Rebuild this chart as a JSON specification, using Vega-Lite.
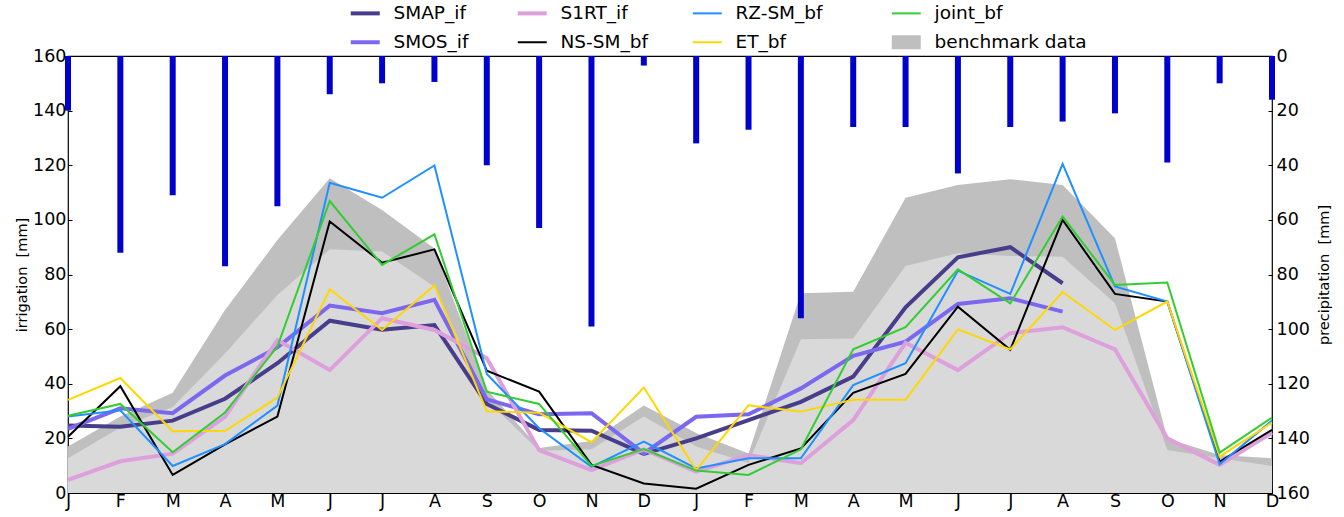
{
  "$schema": "https://vega.github.io/schema/vega-lite/v6.json",
  "width": 1204,
  "height": 437,
  "autosize": {"type": "none"},
  "padding": {"left": 68, "top": 56, "right": 72, "bottom": 24},
  "config": {
    "font": "DejaVu Sans",
    "view": {"stroke": "#000", "strokeWidth": 1.2},
    "axis": {"grid": false, "domain": false, "labelColor": "#000", "titleColor": "#000", "tickColor": "#000", "labelFontSize": 17.5, "titleFontSize": 14.5, "titleFontWeight": "normal", "tickSize": -4, "tickWidth": 1}
  },
  "datasets": {
    "bench": [
      {"m": 0, "upper": 17.0, "lower": 12.7}, {"m": 1, "upper": 28.0, "lower": 24.0}, {"m": 2, "upper": 36.7, "lower": 31.5},
      {"m": 3, "upper": 67.0, "lower": 51.1}, {"m": 4, "upper": 92.6, "lower": 72.5}, {"m": 5, "upper": 115.2, "lower": 89.2},
      {"m": 6, "upper": 103.6, "lower": 88.4}, {"m": 7, "upper": 89.5, "lower": 75.5}, {"m": 8, "upper": 38.0, "lower": 34.0},
      {"m": 9, "upper": 16.5, "lower": 15.5}, {"m": 10, "upper": 19.0, "lower": 16.0}, {"m": 11, "upper": 32.0, "lower": 28.0},
      {"m": 12, "upper": 22.0, "lower": 17.0}, {"m": 13, "upper": 14.5, "lower": 11.0}, {"m": 14, "upper": 73.1, "lower": 56.3},
      {"m": 15, "upper": 73.7, "lower": 56.6}, {"m": 16, "upper": 108.1, "lower": 83.1}, {"m": 17, "upper": 112.8, "lower": 87.8},
      {"m": 18, "upper": 114.9, "lower": 86.8}, {"m": 19, "upper": 112.8, "lower": 86.5}, {"m": 20, "upper": 93.3, "lower": 69.5},
      {"m": 21, "upper": 20.0, "lower": 15.7}, {"m": 22, "upper": 13.9, "lower": 12.7}, {"m": 23, "upper": 12.7, "lower": 9.9}
    ],
    "precip": [
      {"m": 0, "p": 20}, {"m": 1, "p": 72}, {"m": 2, "p": 51}, {"m": 3, "p": 77}, {"m": 4, "p": 55}, {"m": 5, "p": 14},
      {"m": 6, "p": 10}, {"m": 7, "p": 9.5}, {"m": 8, "p": 40}, {"m": 9, "p": 63}, {"m": 10, "p": 99}, {"m": 11, "p": 3.5},
      {"m": 12, "p": 32}, {"m": 13, "p": 27}, {"m": 14, "p": 96}, {"m": 15, "p": 26}, {"m": 16, "p": 26}, {"m": 17, "p": 43},
      {"m": 18, "p": 26}, {"m": 19, "p": 24}, {"m": 20, "p": 21}, {"m": 21, "p": 39}, {"m": 22, "p": 10}, {"m": 23, "p": 16}
    ],
    "lines": [
      {"series": "SMAP_if", "m": 0, "v": 24.7}, {"series": "SMAP_if", "m": 1, "v": 24.3}, {"series": "SMAP_if", "m": 2, "v": 26.5},
      {"series": "SMAP_if", "m": 3, "v": 34.5}, {"series": "SMAP_if", "m": 4, "v": 47.5}, {"series": "SMAP_if", "m": 5, "v": 63.1},
      {"series": "SMAP_if", "m": 6, "v": 59.8}, {"series": "SMAP_if", "m": 7, "v": 61.5}, {"series": "SMAP_if", "m": 8, "v": 32.6},
      {"series": "SMAP_if", "m": 9, "v": 23.1}, {"series": "SMAP_if", "m": 10, "v": 22.8}, {"series": "SMAP_if", "m": 11, "v": 14.3},
      {"series": "SMAP_if", "m": 12, "v": 20.0}, {"series": "SMAP_if", "m": 13, "v": 26.7}, {"series": "SMAP_if", "m": 14, "v": 33.4},
      {"series": "SMAP_if", "m": 15, "v": 42.6}, {"series": "SMAP_if", "m": 16, "v": 68.0}, {"series": "SMAP_if", "m": 17, "v": 86.3},
      {"series": "SMAP_if", "m": 18, "v": 90.0}, {"series": "SMAP_if", "m": 19, "v": 76.8},

      {"series": "SMOS_if", "m": 0, "v": 23.5}, {"series": "SMOS_if", "m": 1, "v": 31.0}, {"series": "SMOS_if", "m": 2, "v": 29.2},
      {"series": "SMOS_if", "m": 3, "v": 43.0}, {"series": "SMOS_if", "m": 4, "v": 53.3}, {"series": "SMOS_if", "m": 5, "v": 68.6},
      {"series": "SMOS_if", "m": 6, "v": 65.8}, {"series": "SMOS_if", "m": 7, "v": 70.7}, {"series": "SMOS_if", "m": 8, "v": 34.3},
      {"series": "SMOS_if", "m": 9, "v": 28.8}, {"series": "SMOS_if", "m": 10, "v": 29.2}, {"series": "SMOS_if", "m": 11, "v": 14.5},
      {"series": "SMOS_if", "m": 12, "v": 27.9}, {"series": "SMOS_if", "m": 13, "v": 28.8}, {"series": "SMOS_if", "m": 14, "v": 38.3},
      {"series": "SMOS_if", "m": 15, "v": 50.2}, {"series": "SMOS_if", "m": 16, "v": 55.4}, {"series": "SMOS_if", "m": 17, "v": 69.2},
      {"series": "SMOS_if", "m": 18, "v": 71.3}, {"series": "SMOS_if", "m": 19, "v": 66.4},

      {"series": "S1RT_if", "m": 0, "v": 4.8}, {"series": "S1RT_if", "m": 1, "v": 11.6}, {"series": "S1RT_if", "m": 2, "v": 14.4},
      {"series": "S1RT_if", "m": 3, "v": 27.9}, {"series": "S1RT_if", "m": 4, "v": 56.0}, {"series": "S1RT_if", "m": 5, "v": 45.0},
      {"series": "S1RT_if", "m": 6, "v": 64.0}, {"series": "S1RT_if", "m": 7, "v": 59.7}, {"series": "S1RT_if", "m": 8, "v": 49.3},
      {"series": "S1RT_if", "m": 9, "v": 15.7}, {"series": "S1RT_if", "m": 10, "v": 8.4}, {"series": "S1RT_if", "m": 11, "v": 16.0},
      {"series": "S1RT_if", "m": 12, "v": 7.8}, {"series": "S1RT_if", "m": 13, "v": 13.9}, {"series": "S1RT_if", "m": 14, "v": 10.9},
      {"series": "S1RT_if", "m": 15, "v": 26.7}, {"series": "S1RT_if", "m": 16, "v": 55.0}, {"series": "S1RT_if", "m": 17, "v": 45.0},
      {"series": "S1RT_if", "m": 18, "v": 58.5}, {"series": "S1RT_if", "m": 19, "v": 60.7}, {"series": "S1RT_if", "m": 20, "v": 52.6},
      {"series": "S1RT_if", "m": 21, "v": 20.0}, {"series": "S1RT_if", "m": 22, "v": 10.3}, {"series": "S1RT_if", "m": 23, "v": 22.1},

      {"series": "NS-SM_bf", "m": 0, "v": 20.6}, {"series": "NS-SM_bf", "m": 1, "v": 39.1}, {"series": "NS-SM_bf", "m": 2, "v": 6.6},
      {"series": "NS-SM_bf", "m": 3, "v": 17.8}, {"series": "NS-SM_bf", "m": 4, "v": 28.0}, {"series": "NS-SM_bf", "m": 5, "v": 99.4},
      {"series": "NS-SM_bf", "m": 6, "v": 84.3}, {"series": "NS-SM_bf", "m": 7, "v": 89.2}, {"series": "NS-SM_bf", "m": 8, "v": 44.8},
      {"series": "NS-SM_bf", "m": 9, "v": 37.1}, {"series": "NS-SM_bf", "m": 10, "v": 10.3}, {"series": "NS-SM_bf", "m": 11, "v": 3.5},
      {"series": "NS-SM_bf", "m": 12, "v": 1.6}, {"series": "NS-SM_bf", "m": 13, "v": 10.3}, {"series": "NS-SM_bf", "m": 14, "v": 16.3},
      {"series": "NS-SM_bf", "m": 15, "v": 36.7}, {"series": "NS-SM_bf", "m": 16, "v": 43.6}, {"series": "NS-SM_bf", "m": 17, "v": 68.2},
      {"series": "NS-SM_bf", "m": 18, "v": 52.4}, {"series": "NS-SM_bf", "m": 19, "v": 100.0}, {"series": "NS-SM_bf", "m": 20, "v": 72.9},
      {"series": "NS-SM_bf", "m": 21, "v": 70.1}, {"series": "NS-SM_bf", "m": 22, "v": 11.5}, {"series": "NS-SM_bf", "m": 23, "v": 23.1},

      {"series": "RZ-SM_bf", "m": 0, "v": 28.0}, {"series": "RZ-SM_bf", "m": 1, "v": 30.3}, {"series": "RZ-SM_bf", "m": 2, "v": 9.9},
      {"series": "RZ-SM_bf", "m": 3, "v": 17.9}, {"series": "RZ-SM_bf", "m": 4, "v": 32.0}, {"series": "RZ-SM_bf", "m": 5, "v": 113.6},
      {"series": "RZ-SM_bf", "m": 6, "v": 108.1}, {"series": "RZ-SM_bf", "m": 7, "v": 119.9}, {"series": "RZ-SM_bf", "m": 8, "v": 43.6},
      {"series": "RZ-SM_bf", "m": 9, "v": 23.7}, {"series": "RZ-SM_bf", "m": 10, "v": 9.6}, {"series": "RZ-SM_bf", "m": 11, "v": 18.8},
      {"series": "RZ-SM_bf", "m": 12, "v": 9.0}, {"series": "RZ-SM_bf", "m": 13, "v": 12.7}, {"series": "RZ-SM_bf", "m": 14, "v": 12.7},
      {"series": "RZ-SM_bf", "m": 15, "v": 39.5}, {"series": "RZ-SM_bf", "m": 16, "v": 47.5}, {"series": "RZ-SM_bf", "m": 17, "v": 81.4},
      {"series": "RZ-SM_bf", "m": 18, "v": 72.9}, {"series": "RZ-SM_bf", "m": 19, "v": 120.5}, {"series": "RZ-SM_bf", "m": 20, "v": 75.6},
      {"series": "RZ-SM_bf", "m": 21, "v": 70.1}, {"series": "RZ-SM_bf", "m": 22, "v": 10.5}, {"series": "RZ-SM_bf", "m": 23, "v": 26.5},

      {"series": "ET_bf", "m": 0, "v": 34.1}, {"series": "ET_bf", "m": 1, "v": 42.1}, {"series": "ET_bf", "m": 2, "v": 22.6},
      {"series": "ET_bf", "m": 3, "v": 22.8}, {"series": "ET_bf", "m": 4, "v": 34.9}, {"series": "ET_bf", "m": 5, "v": 74.6},
      {"series": "ET_bf", "m": 6, "v": 59.7}, {"series": "ET_bf", "m": 7, "v": 76.0}, {"series": "ET_bf", "m": 8, "v": 29.9},
      {"series": "ET_bf", "m": 9, "v": 29.4}, {"series": "ET_bf", "m": 10, "v": 18.6}, {"series": "ET_bf", "m": 11, "v": 38.6},
      {"series": "ET_bf", "m": 12, "v": 8.4}, {"series": "ET_bf", "m": 13, "v": 32.1}, {"series": "ET_bf", "m": 14, "v": 29.8},
      {"series": "ET_bf", "m": 15, "v": 34.1}, {"series": "ET_bf", "m": 16, "v": 34.1}, {"series": "ET_bf", "m": 17, "v": 59.9},
      {"series": "ET_bf", "m": 18, "v": 52.6}, {"series": "ET_bf", "m": 19, "v": 73.6}, {"series": "ET_bf", "m": 20, "v": 59.7},
      {"series": "ET_bf", "m": 21, "v": 70.1}, {"series": "ET_bf", "m": 22, "v": 13.3}, {"series": "ET_bf", "m": 23, "v": 25.8},

      {"series": "joint_bf", "m": 0, "v": 28.3}, {"series": "joint_bf", "m": 1, "v": 32.6}, {"series": "joint_bf", "m": 2, "v": 14.9},
      {"series": "joint_bf", "m": 3, "v": 29.5}, {"series": "joint_bf", "m": 4, "v": 53.6}, {"series": "joint_bf", "m": 5, "v": 106.9},
      {"series": "joint_bf", "m": 6, "v": 83.5}, {"series": "joint_bf", "m": 7, "v": 94.7}, {"series": "joint_bf", "m": 8, "v": 37.1},
      {"series": "joint_bf", "m": 9, "v": 32.6}, {"series": "joint_bf", "m": 10, "v": 9.9}, {"series": "joint_bf", "m": 11, "v": 16.1},
      {"series": "joint_bf", "m": 12, "v": 8.2}, {"series": "joint_bf", "m": 13, "v": 6.6}, {"series": "joint_bf", "m": 14, "v": 16.0},
      {"series": "joint_bf", "m": 15, "v": 52.6}, {"series": "joint_bf", "m": 16, "v": 60.7}, {"series": "joint_bf", "m": 17, "v": 81.9},
      {"series": "joint_bf", "m": 18, "v": 69.4}, {"series": "joint_bf", "m": 19, "v": 101.2}, {"series": "joint_bf", "m": 20, "v": 76.2},
      {"series": "joint_bf", "m": 21, "v": 77.1}, {"series": "joint_bf", "m": 22, "v": 14.8}, {"series": "joint_bf", "m": 23, "v": 27.6}
    ]
  },
  "layer": [
    {
      "layer": [
        {
          "data": {"name": "bench"},
          "mark": {"type": "area", "opacity": 1},
          "encoding": {
            "x": {"field": "m", "type": "quantitative", "scale": {"domain": [0, 23], "nice": false, "zero": false},
              "axis": {"title": null, "values": [0,1,2,3,4,5,6,7,8,9,10,11,12,13,14,15,16,17,18,19,20,21,22,23],
                "labelExpr": "['J','F','M','A','M','J','J','A','S','O','N','D'][datum.value % 12]", "labelPadding": 3, "labelFlush": false}},
            "y": {"field": "upper", "type": "quantitative", "scale": {"domain": [0, 160], "nice": false},
              "axis": {"title": "irrigation\u00a0 [mm]", "values": [0,20,40,60,80,100,120,140,160], "labelPadding": 6, "titlePadding": 3}},
            "color": {"datum": "benchmark data", "type": "nominal"}
          }
        },
        {
          "data": {"name": "bench"},
          "mark": {"type": "area", "color": "#d9d9d9", "opacity": 1},
          "encoding": {
            "x": {"field": "m", "type": "quantitative"},
            "y": {"field": "lower", "type": "quantitative"}
          }
        },
        {
          "data": {"name": "lines"},
          "transform": [{"filter": {"field": "series", "oneOf": ["SMAP_if", "SMOS_if", "S1RT_if"]}}],
          "mark": {"type": "line", "strokeWidth": 4},
          "encoding": {
            "x": {"field": "m", "type": "quantitative"},
            "y": {"field": "v", "type": "quantitative"},
            "color": {"field": "series", "type": "nominal",
              "scale": {"domain": ["SMAP_if", "S1RT_if", "RZ-SM_bf", "joint_bf", "SMOS_if", "NS-SM_bf", "ET_bf", "benchmark data"],
                "range": ["#483d8b", "#dda0dd", "#1e90ff", "#32cd32", "#7b68ee", "#000000", "#ffd700", "#bfbfbf"]},
              "legend": {
                "title": null, "orient": "none", "legendX": 288, "legendY": -52, "direction": "horizontal", "columns": 4,
                "symbolType": "stroke", "symbolSize": 841, "labelFontSize": 18.5, "labelColor": "#000", "labelOffset": 19,
                "columnPadding": 40, "rowPadding": -9, "padding": 0, "labelLimit": 300,
                "encode": {"symbols": {"update": {
                  "strokeWidth": {"signal": "datum.value === 'benchmark data' ? 14 : (datum.value === 'SMAP_if' || datum.value === 'SMOS_if' || datum.value === 'S1RT_if') ? 4 : 2"}
                }}}
              }}
          }
        },
        {
          "data": {"name": "lines"},
          "transform": [{"filter": {"field": "series", "oneOf": ["NS-SM_bf", "RZ-SM_bf", "ET_bf", "joint_bf"]}}],
          "mark": {"type": "line", "strokeWidth": 2},
          "encoding": {
            "x": {"field": "m", "type": "quantitative"},
            "y": {"field": "v", "type": "quantitative"},
            "color": {"field": "series", "type": "nominal"}
          }
        }
      ]
    },
    {
      "data": {"name": "precip"},
      "mark": {"type": "rule", "strokeWidth": 6, "color": "#0000cd"},
      "encoding": {
        "x": {"field": "m", "type": "quantitative"},
        "y": {"field": "p", "type": "quantitative", "scale": {"domain": [0, 160], "reverse": true, "nice": false},
          "axis": {"orient": "right", "title": "precipitation\u00a0 [mm]", "titleAngle": 270, "values": [0,20,40,60,80,100,120,140,160], "labelPadding": 8, "titlePadding": 22}},
        "y2": {"datum": 0}
      }
    }
  ],
  "resolve": {"scale": {"y": "independent"}}
}
